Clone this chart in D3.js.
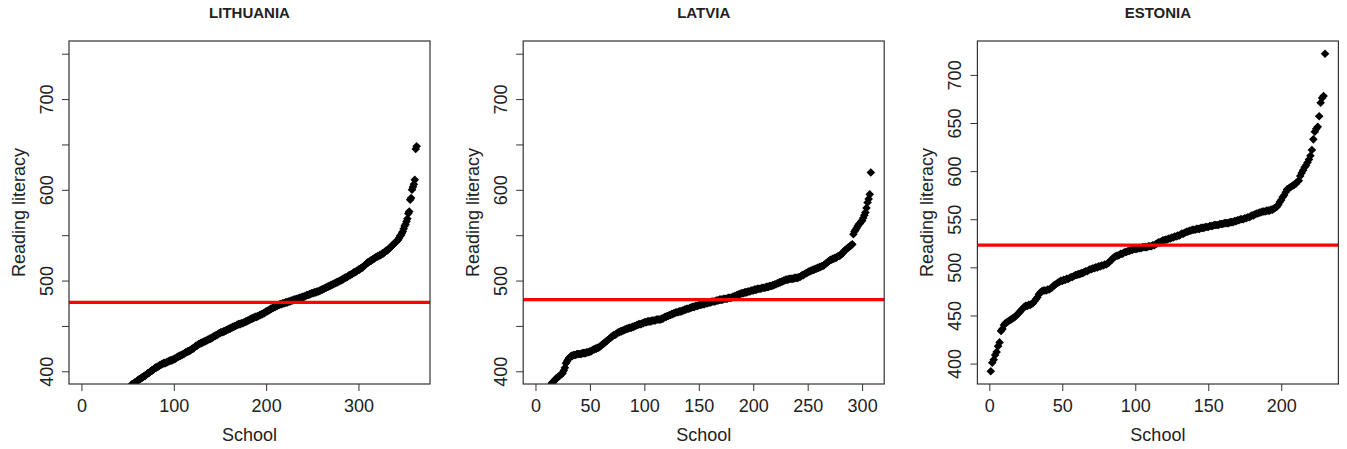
<!DOCTYPE html>
<html>
<head>
<meta charset="utf-8">
<script src="https://cdn.jsdelivr.net/npm/d3@7"></script>
<style>
body { margin: 0; background: #fff; }
text { font-family: "Liberation Sans", Arial, sans-serif; fill: #222; }
</style>
</head>
<body>
<div id="chart"></div>
<script>
// school scores, sorted, one array per country
var lithuania = [
296,305,311,318,321,324,327,329,331,333,
335,337,339,340,342,343,345,346,347,349,
350,351,352,353,354,355,356,357,359,360,
361,362,363,364,365,366,367,368,369,370,
371,372,373,374,375,376,377,378,379,380,
381,382,383,385,386,386,387,388,388,389,
390,391,391,392,393,393,394,395,395,396,
397,398,398,399,400,401,401,402,403,404,
404,405,405,406,407,407,408,408,409,409,
409,410,410,411,411,412,412,412,413,413,
414,414,415,416,416,417,417,418,418,419,
419,420,421,421,422,422,423,423,424,425,
425,426,427,428,428,429,430,430,431,431,
432,432,433,433,434,434,435,435,436,436,
437,437,438,439,439,440,440,441,442,442,
443,443,443,444,444,445,445,446,446,447,
447,448,448,449,449,450,450,451,451,452,
452,452,453,453,453,454,454,455,455,456,
456,457,457,458,458,459,459,460,460,460,
461,461,462,462,463,463,464,464,465,466,
466,467,467,468,469,469,470,470,471,471,
472,472,473,473,474,474,474,475,475,475,
476,476,476,477,477,477,478,478,478,479,
479,479,480,480,480,481,481,481,482,482,
482,483,483,484,484,484,485,485,486,486,
486,487,487,487,488,488,488,489,489,490,
490,491,491,492,492,493,493,494,494,495,
495,496,496,497,497,498,498,499,499,500,
500,501,501,502,503,503,504,504,505,506,
506,507,507,508,509,509,510,510,511,512,
512,513,514,514,515,516,517,518,519,520,
520,521,522,522,523,524,524,525,526,526,
527,527,528,528,529,530,530,531,532,533,
533,534,535,536,537,538,539,540,541,542,
543,544,545,547,549,550,552,554,557,560,
562,565,568,574,576,589,591,600,603,606,
611,645,648
];

var latvia = [
318,333,343,350,355,360,364,367,370,373,
376,378,381,384,387,388,389,391,392,393,
394,395,396,397,398,401,404,409,411,413,
415,416,417,417,418,418,418,419,419,419,
419,419,420,420,420,420,421,421,421,422,
422,423,424,424,425,425,426,426,427,428,
429,430,431,432,433,434,435,436,437,438,
439,440,440,441,442,443,443,444,444,445,
445,446,446,447,447,448,448,448,449,449,
450,450,451,451,452,452,452,453,453,454,
454,454,455,455,455,455,456,456,456,456,
457,457,457,457,457,458,458,459,460,460,
461,461,462,462,463,463,464,464,465,465,
465,466,466,466,467,467,468,468,469,469,
469,470,470,471,471,471,472,472,472,473,
473,473,474,474,474,475,475,475,476,476,
476,477,477,477,477,478,478,478,479,479,
479,479,480,480,480,480,481,481,481,481,
482,482,483,483,484,484,485,485,486,486,
486,487,487,487,488,488,488,489,489,489,
490,490,490,491,491,491,491,492,492,492,
492,493,493,493,494,494,494,495,495,496,
496,497,497,498,498,499,499,500,500,501,
501,501,502,502,502,502,502,503,503,503,
503,504,504,505,506,506,507,508,508,509,
510,510,511,511,512,512,513,513,514,514,
515,515,516,516,517,518,519,520,521,522,
523,523,524,524,525,525,526,527,527,528,
529,530,532,533,534,535,536,537,538,539,
540,551,554,556,558,560,562,563,565,566,
569,572,575,580,586,590,595,619
];

var estonia = [
392,401,404,409,412,418,422,434,436,440,
442,443,444,445,446,447,448,449,451,452,
454,456,457,459,460,460,461,461,462,463,
465,467,469,472,474,475,476,476,476,477,
477,478,479,481,482,483,484,485,486,486,
487,487,488,488,489,490,490,491,492,492,
493,493,494,494,495,496,496,497,498,498,
499,499,500,500,501,501,502,502,503,503,
504,505,507,508,510,511,512,512,513,514,
514,515,516,516,517,517,518,518,519,519,
519,520,520,520,521,521,521,521,522,522,
522,523,523,524,525,526,526,527,528,528,
529,529,530,530,531,531,532,532,533,533,
534,535,535,536,537,537,538,538,539,539,
539,540,540,540,541,541,541,542,542,542,
543,543,543,544,544,544,544,545,545,545,
546,546,546,546,547,547,547,548,548,549,
549,550,550,550,551,551,552,552,553,554,
554,555,556,556,557,557,558,558,558,559,
559,559,560,560,561,562,563,565,568,570,
573,575,578,581,582,583,584,585,586,587,
589,590,595,598,601,604,606,609,612,616,
622,633,641,644,646,657,671,676,678,722
];

var titles = ["LITHUANIA", "LATVIA", "ESTONIA"];
var means = [476, 479, 523];
var yLimits = [[400, 750], [400, 750], null];
var xTicks = [[0, 100, 200, 300], [0, 50, 100, 150, 200, 250, 300], [0, 50, 100, 150, 200]];
var yTicks = [[400, 450, 500, 550, 600, 650, 700, 750], [400, 450, 500, 550, 600, 650, 700, 750], [400, 450, 500, 550, 600, 650, 700]];
var yLabelled = [[400, 500, 600, 700], [400, 500, 600, 700], [400, 450, 500, 550, 600, 650, 700]];

var width = 1347;
var height = 449;
var top_margin = 41;
var plot_w = 361;
var plot_h = 343;
var step = 454.2;
var first_left = 69;

var svg = d3.select("#chart").append("svg").attr("width", width).attr("height", height);

var diamond = "M0,-4.3L4.3,0L0,4.3L-4.3,0Z";

[lithuania, latvia, estonia].forEach(function(values, k) {
    var left = first_left + k * step;
    var n = values.length;
    var xpad = 0.04 * (n - 1);
    var lim = yLimits[k] || d3.extent(values);
    var ypad = 0.04 * (lim[1] - lim[0]);

    var xscale = d3.scaleLinear().domain([1 - xpad, n + xpad]).range([0, plot_w]);
    var yscale = d3.scaleLinear().domain([lim[0] - ypad, lim[1] + ypad]).range([plot_h, 0]);

    var g = svg.append("g").attr("transform", "translate(" + left + "," + top_margin + ")");

    g.append("clipPath").attr("id", "clip" + k)
        .append("rect").attr("width", plot_w).attr("height", plot_h);

    // points
    g.append("g").attr("clip-path", "url(#clip" + k + ")")
        .selectAll("path").data(values).join("path")
        .attr("d", diamond)
        .attr("fill", "#000")
        .attr("transform", function(d, i) { return "translate(" + xscale(i + 1) + "," + yscale(d) + ")"; });

    // mean line
    g.append("line")
        .attr("x1", 0).attr("x2", plot_w)
        .attr("y1", yscale(means[k])).attr("y2", yscale(means[k]))
        .attr("stroke", "#f00").attr("stroke-width", 3.2);

    g.append("rect").attr("width", plot_w).attr("height", plot_h)
        .attr("fill", "none").attr("stroke", "#333").attr("stroke-width", 1.2);

    var xaxis = d3.axisBottom(xscale).tickValues(xTicks[k]).tickSize(7).tickPadding(8).tickFormat(d3.format("d"));
    var gx = g.append("g").attr("transform", "translate(0," + plot_h + ")").call(xaxis);
    gx.select(".domain").remove();
    gx.selectAll("line").attr("stroke", "#333");
    gx.selectAll("text").style("font-size", "18px").attr("fill", "#222");

    var yaxis = d3.axisLeft(yscale).tickValues(yTicks[k]).tickSize(7)
        .tickFormat(function(d) { return yLabelled[k].indexOf(d) >= 0 ? d : ""; });
    var gy = g.append("g").call(yaxis);
    gy.select(".domain").remove();
    gy.selectAll("line").attr("stroke", "#333");
    gy.selectAll("text")
        .attr("x", 0).attr("y", -16.5).attr("dy", null)
        .attr("text-anchor", "middle")
        .attr("transform", "rotate(-90)")
        .style("font-size", "18px").attr("fill", "#222");

    g.append("text")
        .attr("x", plot_w / 2).attr("y", -23)
        .attr("text-anchor", "middle")
        .style("font-size", "15px").style("font-weight", "bold")
        .text(titles[k]);

    g.append("text")
        .attr("x", plot_w / 2).attr("y", plot_h + 57)
        .attr("text-anchor", "middle")
        .style("font-size", "18px")
        .text("School");

    g.append("text")
        .attr("transform", "translate(-44," + (plot_h / 2) + ") rotate(-90)")
        .attr("text-anchor", "middle")
        .style("font-size", "18px")
        .text("Reading literacy");
});
</script>
</body>
</html>
